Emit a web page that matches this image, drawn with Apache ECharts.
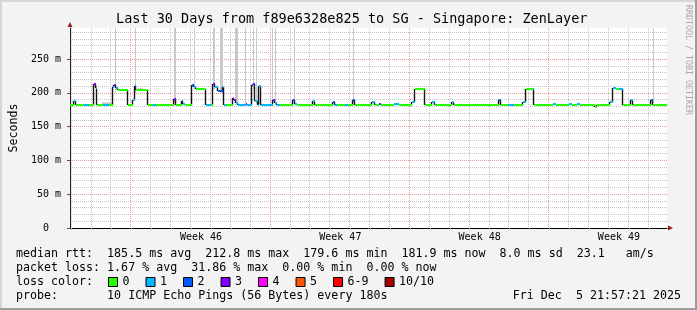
<!DOCTYPE html>
<html><head><meta charset="utf-8">
<script src="https://cdn.jsdelivr.net/npm/echarts@6/dist/echarts.min.js"></script>
<style>html,body{margin:0;padding:0;background:#f3f3f3}#c{width:697px;height:310px}</style>
</head><body><div id="c"></div>
<script>
const MONO = '"DejaVu Sans Mono", monospace';

// ---- time axis: days since Wed Nov 5 21:57:21 2025 (30 day window)
const spanDays = 30;
const firstMidnight = 0.085;                       // Thu Nov 6 00:00
const weekStarts = [3.085, 10.085, 17.085, 24.085]; // Sunday boundaries
const weekLabels = ['Week 46', 'Week 47', 'Week 48', 'Week 49'];

// ---- y axis (ms)
const yMax = 296;
const yMajor = 50;
const yMinor = 10;

// ---- median rtt, step segments: start day, value (ms), loss level index
const segStart = [0, 0.2, 0.3, 0.7, 0.95, 1.2, 1.3, 1.375, 1.65, 1.95,
  2.15, 2.2, 2.3, 2.4, 2.925, 3.175, 3.25, 3.3, 3.9, 4.15,
  4.3, 5.25, 5.35, 5.625, 5.7, 5.8, 6.15, 6.25, 6.35, 6.825,
  7.1, 7.2, 7.3, 7.45, 7.7, 7.75, 7.85, 8.2, 8.25, 8.35,
  8.45, 8.85, 8.9, 9.15, 9.2, 9.3, 9.45, 9.5, 9.575, 10.2,
  10.3, 10.4, 10.55, 11.225, 11.325, 11.425, 12.2, 12.3, 13.2, 13.3,
  13.4, 13.8, 13.95, 14.2, 14.3, 15.2, 15.35, 15.55, 15.65, 16.3,
  16.55, 17.2, 17.325, 17.85, 18.2, 18.35, 19.2, 19.3, 21.575, 21.65,
  22.0, 22.3, 22.75, 22.9, 23.25, 23.325, 24.25, 24.4, 25.1, 25.25,
  25.5, 25.65, 26.4, 26.5, 27.15, 27.275, 27.45, 27.6, 27.8, 28.2,
  28.3, 29.2, 29.3];
const segValue = [182, 188, 182, 182, 182, 213, 207, 182, 182, 182,
  209, 212, 207, 204, 182, 190, 210, 204, 182, 182,
  182, 191, 182, 188, 184, 182, 212, 209, 205, 182,
  182, 213, 208, 203, 208, 182, 182, 193, 190, 185,
  182, 183, 182, 211, 213, 188, 182, 210, 182, 189,
  185, 182, 182, 189, 184, 182, 188, 182, 186, 182,
  182, 182, 182, 189, 182, 187, 182, 183, 182, 184,
  182, 186, 205, 182, 187, 182, 186, 182, 190, 182,
  182, 182, 186, 205, 205, 182, 184, 182, 183, 182,
  183, 182, 179, 182, 186, 207, 205, 206, 182, 189,
  182, 190, 182];
const segLoss = [0, 1, 0, 1, 0, 3, 1, 0, 1, 0,
  1, 3, 1, 0, 0, 1, 2, 0, 0, 1,
  0, 3, 0, 2, 1, 0, 2, 1, 0, 1,
  0, 3, 1, 2, 1, 1, 0, 4, 3, 1,
  1, 3, 1, 2, 3, 1, 1, 1, 1, 3,
  1, 1, 0, 2, 1, 0, 1, 0, 2, 1,
  0, 1, 0, 2, 0, 1, 0, 2, 0, 1,
  0, 1, 0, 0, 1, 0, 1, 0, 2, 0,
  1, 0, 1, 0, 1, 0, 1, 0, 1, 0,
  1, 0, 0, 0, 1, 1, 0, 1, 0, 1,
  0, 2, 0];

// ---- smoke (ping spread): [startDay, endDay, low ms, high ms]
const smoke = [
  [1.6, 2.1, 182, 186], [3.35, 3.65, 204, 207],
  [2.275, 2.325, 200, 420], [3.25, 3.3, 200, 420], [5.25, 5.35, 185, 420],
  [6.25, 6.3, 205, 420], [7.2, 7.3, 205, 420], [7.55, 7.7, 200, 420],
  [8.3, 8.45, 185, 420], [8.8, 8.85, 182, 420], [9.2, 9.25, 205, 420],
  [9.325, 9.4, 185, 420], [10.175, 10.225, 185, 420], [10.325, 10.375, 183, 420],
  [11.25, 11.3, 185, 420], [14.225, 14.275, 185, 420], [29.275, 29.325, 185, 420]
];

const lossNames = ['0', '1', '2', '3', '4', '5', '6-9', '10/10'];
const lossColors = ['#26ff00', '#00b8ff', '#0059ff', '#7e00ff', '#ff00ff', '#ff5500', '#ff0000', '#a10000'];

const titleText = 'Last 30 Days from f89e6328e825 to SG - Singapore: ZenLayer';
const lineMedian = 'median rtt:  185.5 ms avg  212.8 ms max  179.6 ms min  181.9 ms now  8.0 ms sd  23.1   am/s';
const linePacket = 'packet loss: 1.67 % avg  31.86 % max  0.00 % min  0.00 % now';
const lineLoss = 'loss color:';
const lineProbe = 'probe:       10 ICMP Echo Pings (56 Bytes) every 180s';
const lineDate = 'Fri Dec  5 21:57:21 2025';

// ---- derived
const dayLines = [];
for (let t = firstMidnight; t < spanDays; t += 1) {
  const isWeek = weekStarts.some(w => Math.abs(w - t) < 1e-6) ? 1 : 0;
  dayLines.push([+t.toFixed(3), isWeek]);
}
const weekMids = weekStarts.map(w => +(w + 3.5).toFixed(3));

const segs = lossNames.map(() => []);
const steps = [];
for (let i = 0; i < segStart.length; i++) {
  const t1 = i + 1 < segStart.length ? segStart[i + 1] : spanDays;
  segs[segLoss[i]].push([segStart[i], t1, segValue[i]]);
  if (i > 0 && segValue[i] !== segValue[i - 1]) steps.push([segStart[i], segValue[i - 1], segValue[i]]);
}

function renderGridLine(params, api) {
  const cs = params.coordSys;
  const x = Math.round(api.coord([api.value(0), 0])[0]) - 0.5;
  const wk = api.value(1) === 1;
  return { type: 'line', shape: { x1: x, y1: cs.y, x2: x, y2: cs.y + cs.height },
    style: { stroke: wk ? '#e79a9a' : '#c4c4c4', lineWidth: 1, lineDash: [1, 1] } };
}
function renderSmoke(params, api) {
  const cs = params.coordSys;
  const a = api.coord([api.value(0), api.value(3)]);
  const b = api.coord([api.value(1), api.value(2)]);
  const x0 = Math.round(a[0]);
  const w = Math.max(1, Math.round(b[0]) - x0);
  const top = Math.max(a[1], cs.y);
  return { type: 'rect', shape: { x: x0, y: top, width: w, height: b[1] - top },
    style: { fill: '#c8c8c8' } };
}
function renderStep(params, api) {
  const a = api.coord([api.value(0), api.value(1)]);
  const b = api.coord([api.value(0), api.value(2)]);
  const x = Math.round(a[0]) - 0.5;
  return { type: 'line', shape: { x1: x, y1: Math.round(a[1]), x2: x, y2: Math.round(b[1]) },
    style: { stroke: '#151515', lineWidth: 1.4 } };
}
function renderSeg(params, api) {
  const a = api.coord([api.value(0), api.value(2)]);
  const b = api.coord([api.value(1), api.value(2)]);
  const y = Math.round(a[1]);
  return { type: 'line', shape: { x1: Math.round(a[0]), y1: y, x2: Math.round(b[0]), y2: y },
    style: { stroke: api.visual('color'), lineWidth: 2 } };
}

const txt = (size, lh) => ({ fontFamily: MONO, fontSize: size, fontWeight: 'normal', color: '#000', lineHeight: lh });

const series = [
  { type: 'custom', name: 'grid', data: dayLines, renderItem: renderGridLine, z: 1, silent: true,
    encode: { x: 0, y: 1 } },
  { type: 'custom', name: 'smoke', data: smoke, renderItem: renderSmoke, z: 2, silent: true,
    encode: { x: [0, 1], y: [2, 3] } },
  { type: 'custom', name: 'median', data: steps, renderItem: renderStep, z: 3, silent: true,
    encode: { x: 0, y: [1, 2] } }
].concat(lossNames.map((n, i) => ({
  type: 'custom', name: n, data: segs[i], renderItem: renderSeg, z: 4, silent: true,
  itemStyle: { color: lossColors[i] }, encode: { x: [0, 1], y: 2 }
})));

const chart = echarts.init(document.getElementById('c'), null, { renderer: 'canvas' });
chart.setOption({
  animation: false,
  backgroundColor: '#f3f3f3',
  grid: { left: 67, right: 30, top: 28, bottom: 82, show: true, backgroundColor: '#ffffff', borderWidth: 0 },
  title: [
    { text: titleText, left: 116, top: 11, padding: 0, textStyle: txt(13.5, 16) },
    { text: lineMedian, left: 16, top: 247, padding: 0, textStyle: txt(11.65, 14) },
    { text: linePacket, left: 16, top: 261, padding: 0, textStyle: txt(11.65, 14) },
    { text: lineLoss, left: 16, top: 275, padding: 0, textStyle: txt(11.65, 14) },
    { text: lineProbe, left: 16, top: 289, padding: 0, textStyle: txt(11.65, 14) },
    { text: lineDate, right: 16, top: 289, padding: 0, textStyle: txt(11.65, 14) }
  ],
  legend: {
    data: lossNames, left: 108, top: 275, padding: 0, itemWidth: 9, itemHeight: 9, itemGap: 16,
    icon: 'rect', selectedMode: false,
    itemStyle: { borderColor: '#000', borderWidth: 1 },
    textStyle: { fontFamily: MONO, fontSize: 11.65, color: '#000', lineHeight: 14, padding: 0 }
  },
  xAxis: [
    { type: 'value', min: 0, max: spanDays,
      axisLine: { show: true, lineStyle: { color: '#000', width: 1 } },
      axisTick: { show: true, length: 2, customValues: dayLines.map(d => d[0]), lineStyle: { color: '#b0b0b0' } },
      axisLabel: { show: true, customValues: weekMids, margin: 4, fontFamily: MONO, fontSize: 10, color: '#000',
        formatter: v => { let k = 0; weekMids.forEach((m, i) => { if (Math.abs(m - v) < Math.abs(weekMids[k] - v)) k = i; }); return weekLabels[k]; } },
      splitLine: { show: false } },
    { type: 'value', min: 0, max: spanDays, position: 'bottom',
      axisLine: { show: true, symbol: ['none', 'triangle'], symbolSize: [5, 5], symbolOffset: [0, 3.5], lineStyle: { color: '#9b1c1c', width: 0 } },
      axisTick: { show: false }, axisLabel: { show: false }, splitLine: { show: false } }
  ],
  yAxis: [
    { type: 'value', min: 0, max: yMax, interval: yMajor, position: 'left',
      name: 'Seconds', nameLocation: 'middle', nameRotate: 90, nameGap: 50,
      nameTextStyle: { fontFamily: MONO, fontSize: 11.65, color: '#000' },
      axisLine: { show: true, lineStyle: { color: '#222', width: 1 } },
      axisTick: { show: true, length: 3, lineStyle: { color: '#555' } },
      axisLabel: { margin: 9, fontFamily: MONO, fontSize: 10, color: '#000', showMaxLabel: false,
        formatter: v => (v === 0 ? '0  ' : v + ' m') },
      splitLine: { show: true, showMinLine: false, showMaxLine: false, lineStyle: { color: '#e79a9a', width: 1, type: [1, 1] } },
      z: 1 },
    { type: 'value', min: 0, max: yMax, interval: yMinor, position: 'left',
      axisLine: { show: true, symbol: ['none', 'triangle'], symbolSize: [5, 5], symbolOffset: [0, 3.5], lineStyle: { color: '#9b1c1c', width: 0 } },
      axisTick: { show: false }, axisLabel: { show: false },
      splitLine: { show: true, showMinLine: false, showMaxLine: false, lineStyle: { color: '#c4c4c4', width: 1, type: [1, 1] } },
      z: 0 }
  ],
  graphic: [
    { type: 'rect', shape: { x: 0, y: 0, width: 697, height: 2 }, style: { fill: '#d6d6d6' }, silent: true },
    { type: 'rect', shape: { x: 0, y: 0, width: 2, height: 310 }, style: { fill: '#d6d6d6' }, silent: true },
    { type: 'rect', shape: { x: 0, y: 308, width: 697, height: 2 }, style: { fill: '#9c9c9c' }, silent: true },
    { type: 'rect', shape: { x: 695, y: 0, width: 2, height: 310 }, style: { fill: '#9c9c9c' }, silent: true },
    { type: 'text', x: 688, y: 5, rotation: -Math.PI / 2, silent: true,
      style: { text: 'RRDTOOL / TOBI OETIKER', fontFamily: MONO, fontSize: 8.3, fill: '#a8a8a8', align: 'left', verticalAlign: 'middle' } }
  ],
  series: series
});
</script>
</body></html>
